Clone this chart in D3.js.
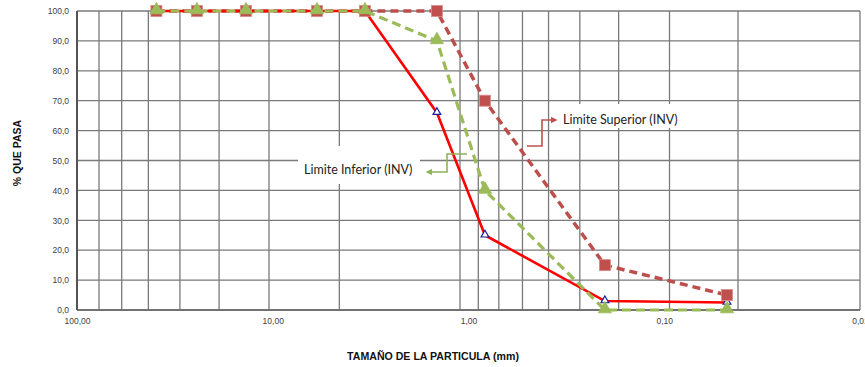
<!DOCTYPE html>
<html><head><meta charset="utf-8">
<script src="https://cdn.jsdelivr.net/npm/d3@7/dist/d3.min.js"></script>
<style>body{margin:0;background:#fff;}svg{display:block;}</style>
</head><body>
<script>
const sizes = [39.3, 24.4, 13.7, 5.94, 3.38, 1.45, 0.824, 0.201, 0.0478];
const muestra = [100, 100, 100, 100, 100, 66, 25, 3, 2.5];
const limiteSuperior = [100, 100, 100, 100, 100, 100, 70, 15, 5];
const limiteInferior = [100, 100, 100, 100, 100, 90, 40, 0, 0];
const xTickValues = [100, 10, 1, 0.1, 0.01];
const xTickLabels = ["100,00", "10,00", "1,00", "0,10", "0,01"];
const xGridValues = [77.2, 59.1, 43.2, 29.8, 18.8, 10.45, 4.57, 1.105, 0.891, 0.70, 0.53, 0.39, 0.27, 0.171, 0.094, 0.042];
const yTickValues = [0, 10, 20, 30, 40, 50, 60, 70, 80, 90, 100];
const yTickLabels = ["0,0", "10,0", "20,0", "30,0", "40,0", "50,0", "60,0", "70,0", "80,0", "90,0", "100,0"];

const W = 865, H = 367;
const svg = d3.select("body").append("svg").attr("width", W).attr("height", H);
const x = d3.scaleLog().domain([100, 0.01]).range([77, 860]);
const y = d3.scaleLinear().domain([0, 100]).range([310, 11]);
const gridColor = "#7a7a7a";

// grid
const g = svg.append("g");
g.selectAll(".hg").data(yTickValues).join("line")
  .attr("x1", x(100)).attr("x2", x(0.01))
  .attr("y1", d => y(d)).attr("y2", d => y(d))
  .attr("stroke", gridColor).attr("stroke-width", 1.3);
g.selectAll(".vg").data(xGridValues.concat([0.01])).join("line")
  .attr("x1", d => x(d)).attr("x2", d => x(d))
  .attr("y1", y(0)).attr("y2", y(100))
  .attr("stroke", gridColor).attr("stroke-width", 1.3);
// axes lines
svg.append("line").attr("x1", x(100)).attr("x2", x(100)).attr("y1", y(0)).attr("y2", y(100))
  .attr("stroke", "#555").attr("stroke-width", 2);
svg.append("line").attr("x1", x(100)).attr("x2", x(0.01)).attr("y1", y(0)).attr("y2", y(0))
  .attr("stroke", "#666").attr("stroke-width", 1.5);

// annotation boxes (white background)
svg.append("rect").attr("x", 298).attr("y", 146).attr("width", 122).attr("height", 38).attr("fill", "#fff");
svg.append("rect").attr("x", 552).attr("y", 104).attr("width", 136).attr("height", 24).attr("fill", "#fff");

// tick labels
const yAx = d3.axisLeft(y).tickValues(yTickValues).tickSize(0).tickPadding(8)
  .tickFormat((d, i) => yTickLabels[i]);
const ya = svg.append("g").attr("transform", `translate(${x(100)},0)`).call(yAx);
ya.select(".domain").remove();
ya.selectAll("text").attr("font-family", "Liberation Sans, Arial, sans-serif").attr("font-size", 8.5).attr("fill", "#404040");

const xAx = d3.axisBottom(x).tickValues(xTickValues).tickSize(0).tickPadding(8)
  .tickFormat((d, i) => xTickLabels[i]);
const xa = svg.append("g").attr("transform", `translate(0,${y(0)})`).call(xAx);
xa.select(".domain").remove();
xa.selectAll("text").attr("font-family", "Liberation Sans, Arial, sans-serif").attr("font-size", 8.5).attr("fill", "#404040");

// axis titles
svg.append("text").attr("transform", `translate(21,153) rotate(-90)`).attr("text-anchor", "middle")
  .attr("font-family", "Liberation Sans, Arial, sans-serif").attr("font-weight", "bold").attr("font-size", 10.5)
  .attr("fill", "#111").text("% QUE PASA");
svg.append("text").attr("x", 433).attr("y", 360).attr("text-anchor", "middle")
  .attr("font-family", "Liberation Sans, Arial, sans-serif").attr("font-weight", "bold").attr("font-size", 10.6)
  .attr("fill", "#111").text("TAMAÑO DE LA PARTICULA (mm)");

const line = d3.line().x(d => x(d[0])).y(d => y(d[1]));
const pts = arr => sizes.map((s, i) => [s, arr[i]]);

// upper limit line
svg.append("path").datum(pts(limiteSuperior)).attr("d", line).attr("fill", "none")
  .attr("stroke", "#bc4f4b").attr("stroke-width", 3.5).attr("stroke-dasharray", "8,5");
// sample line
svg.append("path").datum(pts(muestra)).attr("d", line).attr("fill", "none")
  .attr("stroke", "#ff0000").attr("stroke-width", 2.6);
// sample markers
const tri = d3.symbol().type(d3.symbolTriangle);
svg.selectAll(".sm").data(pts(muestra)).join("path")
  .attr("d", tri.size(26)()).attr("transform", d => `translate(${x(d[0])},${y(d[1]) - 0.5})`)
  .attr("fill", "#fff").attr("stroke", "#1c1c9c").attr("stroke-width", 1.2);
// squares
svg.selectAll(".sq").data(pts(limiteSuperior)).join("rect")
  .attr("x", d => x(d[0]) - 5.5).attr("y", d => y(d[1]) - 5.5).attr("width", 11).attr("height", 11)
  .attr("fill", "#c0504d").attr("stroke", "#d98c8a").attr("stroke-width", 0.8);
// lower limit line
svg.append("path").datum(pts(limiteInferior)).attr("d", line).attr("fill", "none")
  .attr("stroke", "#9bbb59").attr("stroke-width", 3.2).attr("stroke-dasharray", "9,5");
svg.selectAll(".lt").data(pts(limiteInferior)).join("path")
  .attr("d", tri.size(75)()).attr("transform", d => `translate(${x(d[0])},${y(d[1]) - 1})`)
  .attr("fill", "#9bbb59").attr("stroke", "#9bbb59").attr("stroke-width", 0.8);

// annotations
const defs = svg.append("defs");
[["arrG", "#8fb35a"], ["arrR", "#c0504d"]].forEach(([id, c]) => {
  defs.append("marker").attr("id", id).attr("viewBox", "0 0 10 10").attr("refX", 8).attr("refY", 5)
    .attr("markerWidth", 4).attr("markerHeight", 4).attr("orient", "auto")
    .append("path").attr("d", "M0,0 L10,5 L0,10 z").attr("fill", c);
});
svg.append("path").attr("d", "M467,154 L447,154 L447,172 L427,172").attr("fill", "none")
  .attr("stroke", "#8fb35a").attr("stroke-width", 1.6).attr("marker-end", "url(#arrG)");
svg.append("path").attr("d", "M527,146 L542,146 L542,120 L556,120").attr("fill", "none")
  .attr("stroke", "#c0504d").attr("stroke-width", 1.6).attr("marker-end", "url(#arrR)");
svg.append("text").attr("x", 304).attr("y", 174).attr("font-family", "Lato, Open Sans, sans-serif")
  .attr("font-size", 12.5).attr("fill", "#222").text("Limite Inferior (INV)");
svg.append("text").attr("x", 563).attr("y", 123.5).attr("font-family", "Lato, Open Sans, sans-serif")
  .attr("font-size", 12.5).attr("fill", "#222").text("Limite Superior (INV)");
</script>
</body></html>
